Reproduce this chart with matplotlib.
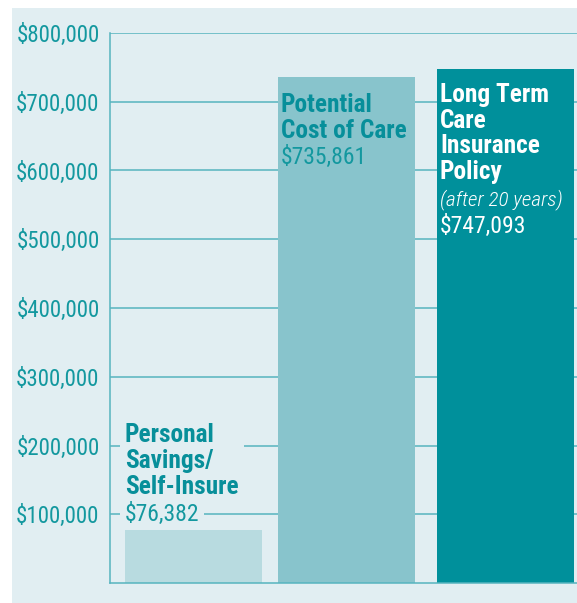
import matplotlib.pyplot as plt
from matplotlib.patches import Rectangle
from matplotlib.ticker import FuncFormatter

# data
categories = ["Personal\nSavings/\nSelf-Insure", "Potential\nCost of Care",
              "Long Term\nCare\nInsurance\nPolicy"]
values = [76382, 735861, 747093]
notes = ["", "", "(after 20 years)"]
yticks = [100000, 200000, 300000, 400000, 500000, 600000, 700000, 800000]

bg = "#e1eef2"
teal = "#13989f"
grid_c = "#56b4bf"
bar_colors = ["#b8dbe0", "#88c4cc", "#00909b"]

plt.rcParams['font.family'] = ['Roboto Condensed', 'Liberation Sans', 'DejaVu Sans']

fig = plt.figure(figsize=(5.77, 6.03), dpi=100)
fig.patches.append(Rectangle((12 / 577, 0), 1, 1 - 8 / 603, transform=fig.transFigure,
                             facecolor=bg, edgecolor="none", zorder=-5))

ax = fig.add_axes([110 / 577, 20 / 603, 467 / 577, 550 / 603])
ax.set_facecolor("none")
ax.set_axisbelow(True)

x = [0, 0.98, 2]
width = 0.878
bars = ax.bar(x, values, width=width, color=bar_colors, zorder=2)

ax.set_xlim(-0.535, -0.535 + 467 / 156)
ax.set_ylim(0, 800000)
ax.set_yticks(yticks)
ax.yaxis.set_major_formatter(FuncFormatter(lambda v, p: f"${v:,.0f}"))
ax.tick_params(axis='y', length=0, pad=7.5, labelsize=16.5, labelcolor=teal)
ax.set_xticks([])
ax.grid(axis='y', color=grid_c, linewidth=1.1)
for s in ["top", "right"]:
    ax.spines[s].set_visible(False)
for s in ["left", "bottom"]:
    ax.spines[s].set_color(grid_c)
    ax.spines[s].set_linewidth(1.1)
    ax.spines[s].set_zorder(3)

bold_kw = dict(textcoords="offset pixels", ha="left", va="top", fontsize=18.3,
               fontweight="bold", linespacing=1.08)
val_kw = dict(textcoords="offset pixels", ha="left", va="center", fontsize=17)

# bar 1: labels above the bar (boxes hide the grid, sit under the bar)
b = bars[0]
left = b.get_x()
ax.annotate(categories[0], xy=(left, values[0]), xytext=(0, 107), color="#078f9a",
            bbox=dict(boxstyle="square,pad=0.2", facecolor=bg, edgecolor="none"),
            zorder=1.5, **bold_kw)
ax.annotate(f"${values[0]:,}", xy=(left, values[0]), xytext=(0, 16), color=teal,
            bbox=dict(boxstyle="square,pad=0.2", facecolor=bg, edgecolor="none"),
            zorder=1.5, **val_kw)

# bar 2: labels inside the bar
b = bars[1]
left = b.get_x()
ax.annotate(categories[1], xy=(left, values[1]), xytext=(3, -16), color="#078f9a",
            zorder=3, **bold_kw)
ax.annotate(f"${values[1]:,}", xy=(left, values[1]), xytext=(3, -80), color=teal,
            zorder=3, **val_kw)

# bar 3: white labels inside the bar
b = bars[2]
left = b.get_x()
ax.annotate(categories[2], xy=(left, values[2]), xytext=(3, -14), color="white",
            zorder=3, **bold_kw)
ax.annotate(notes[2], xy=(left, values[2]), xytext=(3, -130), color="white",
            style="italic", fontweight="light", zorder=3,
            **{**val_kw, "fontsize": 15.3})
ax.annotate(f"${values[2]:,}", xy=(left, values[2]), xytext=(3, -157), color="white",
            zorder=3, **val_kw)

fig.savefig("out.png", dpi=100)
